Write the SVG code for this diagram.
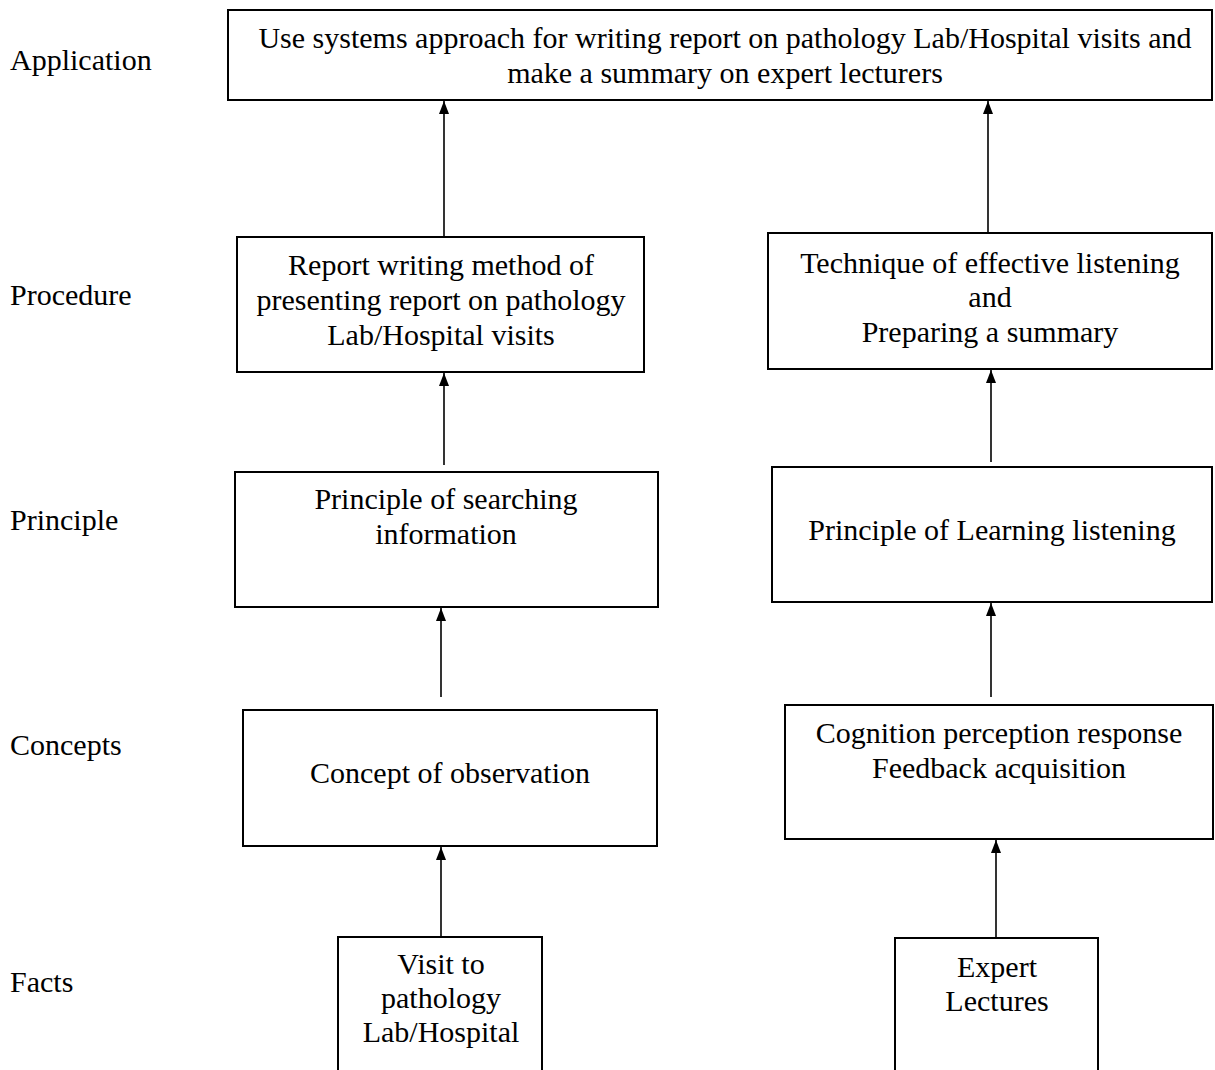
<svg xmlns="http://www.w3.org/2000/svg" width="1215" height="1070" viewBox="0 0 1215 1070">
<style>
.box{fill:#fff;stroke:#000;stroke-width:2}
.t{font-family:"Liberation Serif","Times New Roman",serif;font-size:30px;fill:#000}
.c{text-anchor:middle}
.conn line{stroke:#000;stroke-width:1.6}
</style>
<defs>
<marker id="ah" viewBox="0 0 10 13" refX="5" refY="0" markerWidth="10" markerHeight="13" markerUnits="userSpaceOnUse" orient="0">
<path d="M0,13 L5,0 L10,13 Z" fill="#000"/>
</marker>
</defs>
<g id="levels">
<text class="t" x="10" y="70">Application</text>
<text class="t" x="10" y="305">Procedure</text>
<text class="t" x="10" y="530">Principle</text>
<text class="t" x="10" y="755">Concepts</text>
<text class="t" x="10" y="992">Facts</text>
</g>
<g id="n-application">
<rect class="box" x="228" y="10" width="984" height="90"/>
<text class="t c" x="725" y="48">Use systems approach for writing report on pathology Lab/Hospital visits and</text>
<text class="t c" x="725" y="83">make a summary on expert lecturers</text>
</g>
<g id="n-proc-left">
<rect class="box" x="237" y="237" width="407" height="135"/>
<text class="t c" x="441" y="275">Report writing method of</text>
<text class="t c" x="441" y="310">presenting report on pathology</text>
<text class="t c" x="441" y="345">Lab/Hospital visits</text>
</g>
<g id="n-proc-right">
<rect class="box" x="768" y="233" width="444" height="136"/>
<text class="t c" x="990" y="273">Technique of effective listening</text>
<text class="t c" x="990" y="307">and</text>
<text class="t c" x="990" y="342">Preparing a summary</text>
</g>
<g id="n-prin-left">
<rect class="box" x="235" y="472" width="423" height="135"/>
<text class="t c" x="446" y="509">Principle of searching</text>
<text class="t c" x="446" y="544">information</text>
</g>
<g id="n-prin-right">
<rect class="box" x="772" y="467" width="440" height="135"/>
<text class="t c" x="992" y="540">Principle of Learning listening</text>
</g>
<g id="n-conc-left">
<rect class="box" x="243" y="710" width="414" height="136"/>
<text class="t c" x="450" y="783">Concept of observation</text>
</g>
<g id="n-conc-right">
<rect class="box" x="785" y="705" width="428" height="134"/>
<text class="t c" x="999" y="743">Cognition perception response</text>
<text class="t c" x="999" y="778">Feedback acquisition</text>
</g>
<g id="n-fact-left">
<rect class="box" x="338" y="937" width="204" height="145"/>
<text class="t c" x="441" y="974">Visit to</text>
<text class="t c" x="441" y="1008">pathology</text>
<text class="t c" x="441" y="1042">Lab/Hospital</text>
</g>
<g id="n-fact-right">
<rect class="box" x="895" y="938" width="203" height="145"/>
<text class="t c" x="997" y="977">Expert</text>
<text class="t c" x="997" y="1011">Lectures</text>
</g>
<g id="connectors" class="conn">
<line x1="444" y1="236" x2="444" y2="101" marker-end="url(#ah)"/>
<line x1="988" y1="232" x2="988" y2="101" marker-end="url(#ah)"/>
<line x1="444" y1="465" x2="444" y2="373" marker-end="url(#ah)"/>
<line x1="991" y1="462" x2="991" y2="370" marker-end="url(#ah)"/>
<line x1="441" y1="697" x2="441" y2="608" marker-end="url(#ah)"/>
<line x1="991" y1="697" x2="991" y2="603" marker-end="url(#ah)"/>
<line x1="441" y1="936" x2="441" y2="847" marker-end="url(#ah)"/>
<line x1="996" y1="937" x2="996" y2="840" marker-end="url(#ah)"/>
</g>
</svg>
